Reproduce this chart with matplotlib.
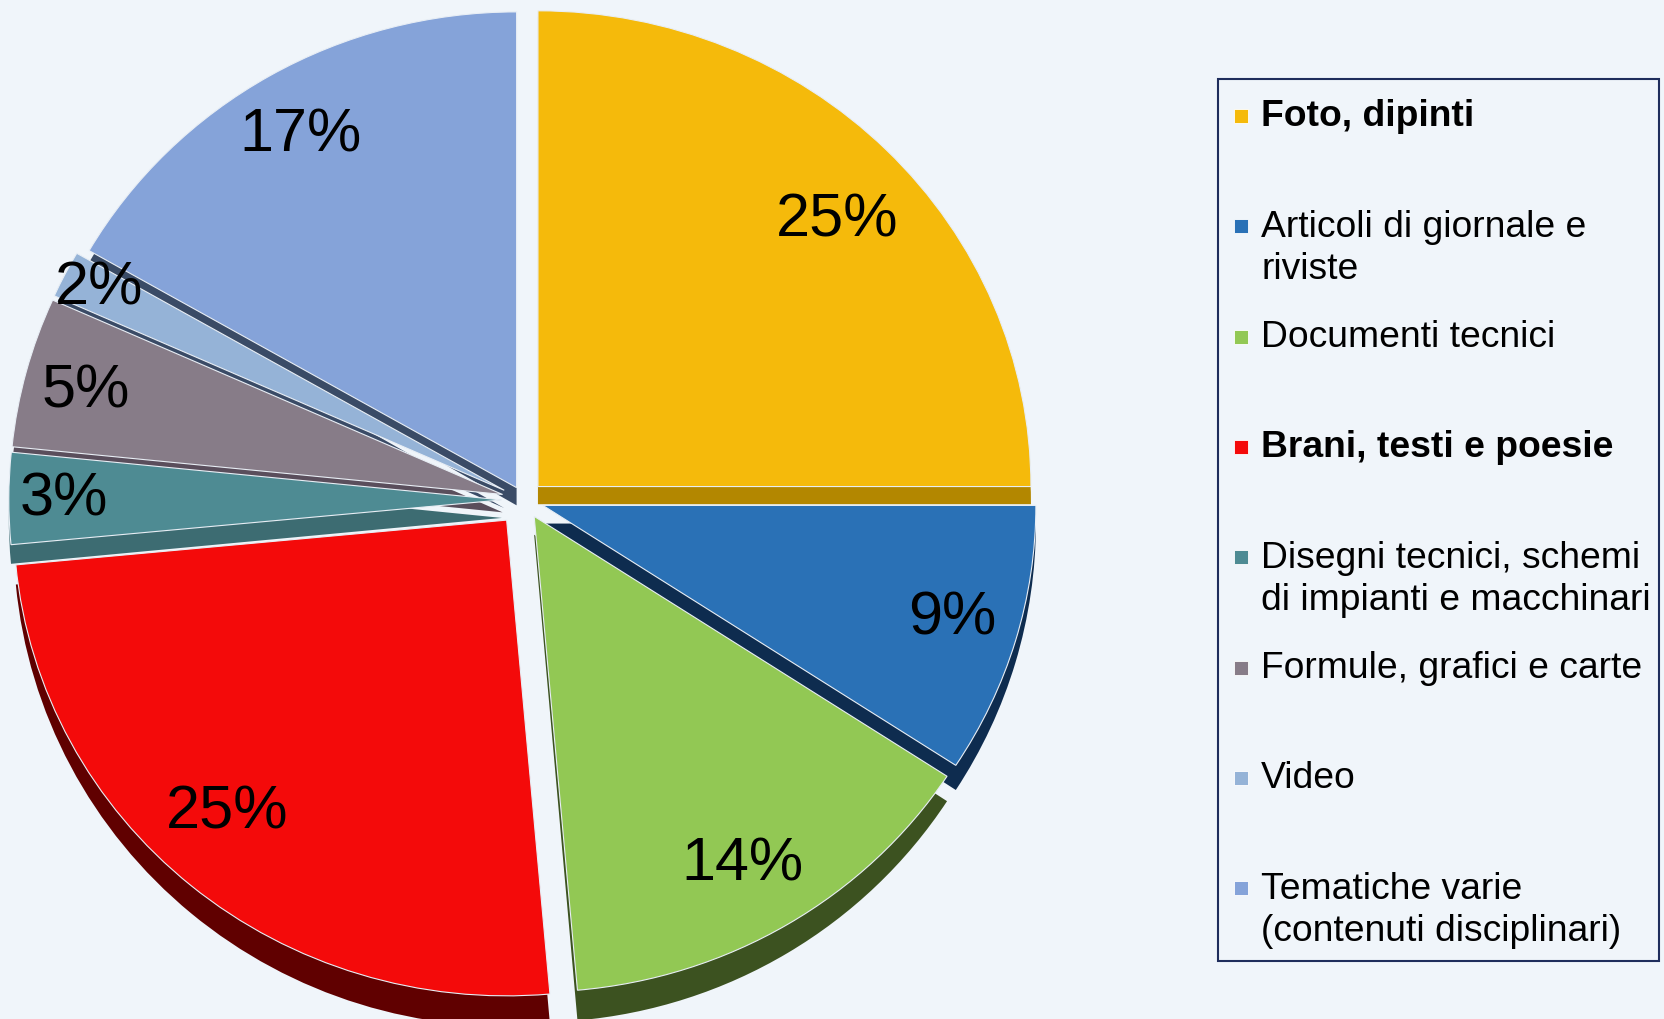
import numpy as np
import matplotlib.pyplot as plt
import matplotlib.patches as mpatches
from matplotlib.transforms import Affine2D

plt.rcParams['font.family'] = ['Liberation Sans', 'DejaVu Sans']

labels = ['Foto, dipinti', 'Articoli di giornale e\nriviste', 'Documenti tecnici',
          'Brani, testi e poesie', 'Disegni tecnici, schemi\ndi impianti e macchinari',
          'Formule, grafici e carte', 'Video', 'Tematiche varie\n(contenuti disciplinari)']
values = [25.0, 9.2, 14.4, 24.9, 3.1, 5.1, 1.6, 16.7]
bold = [True, False, False, True, False, False, False, False]
colors = ['#F5BA0B', '#2A71B6', '#92C854', '#F40A0A', '#4E8B93', '#877C88', '#95B3D7', '#85A3D9']
side_colors = ['#B38700', '#0E2C4F', '#3C5220', '#600000', '#3D6C72', '#5A4E5C', '#3A4B66', '#3A4B66']
explode = [0.04, 0.04, 0.04, 0.055, 0.045, 0.045, 0.045, 0.03]
label_dist = [0.827, 0.863, 0.844, 0.835, 0.889, 0.874, 0.925, 0.862]
label_turn = [-2.3, 0.7, -1.0, -2.9, 0.1, 0.5, -0.3, 0.5]

W, H = 1664, 1020
yscale = 0.965          # slight tilt, pie looks a bit flattened
bg = '#F0F5FA'

fig = plt.figure(figsize=(W / 100, H / 100), dpi=100, facecolor=bg)
ax = fig.add_axes([0, 0, 1, 1])
ax.set_facecolor(bg)

def ypix(y):
    return (H - y) / yscale

cx, cy, r = 524, ypix(501), 493
depth = 18 / yscale
stretch = 1.025
expl = [e * r for e in explode]   # pie() takes explode in data units

# side walls: darker copy, shifted down and a bit taller
sides, _ = ax.pie(values, explode=expl, colors=side_colors, startangle=90, counterclock=False,
                  radius=r, center=(cx, cy), frame=True,
                  wedgeprops=dict(edgecolor='none'))
tr = Affine2D().translate(-cx, -cy).scale(1, stretch).translate(cx, cy - depth) + ax.transData
for s in sides:
    s.set_transform(tr)

wedges, _ = ax.pie(values, explode=expl, colors=colors, startangle=90, counterclock=False,
                   radius=r, center=(cx, cy), frame=True,
                   wedgeprops=dict(edgecolor='#E8EEF5', linewidth=0.8))

total = sum(values)
for w, v, d, t in zip(wedges, values, label_dist, label_turn):
    ang = np.deg2rad((w.theta1 + w.theta2) / 2 + t)
    x = w.center[0] + d * r * np.cos(ang)
    y = w.center[1] + d * r * np.sin(ang)
    ax.text(x, y, '%.0f%%' % (v / total * 100), ha='center', va='center',
            fontsize=44, color='black')

ax.set_aspect('auto')
ax.set_xlim(0, W)
ax.set_ylim(0, H / yscale)
ax.axis('off')

# legend box
box = mpatches.Rectangle((1218 / W, 1 - 962 / H), (1659 - 1218) / W, (962 - 80) / H,
                         transform=fig.transFigure, facecolor=bg, edgecolor='#1F2D5C', linewidth=1.5)
fig.add_artist(box)
for i, (lab, c, b) in enumerate(zip(labels, colors, bold)):
    y0 = 117 + i * 110.3
    sq = mpatches.Rectangle((1234 / W, 1 - (y0 + 7) / H), 14 / W, 14 / H,
                            transform=fig.transFigure, facecolor=c, edgecolor='white', linewidth=0.6)
    fig.add_artist(sq)
    for j, line in enumerate(lab.split('\n')):
        fig.text(1261 / W, 1 - (y0 + j * 42.5) / H, line, ha='left', va='center',
                 fontsize=26.8, fontweight='bold' if b else 'normal', color='black')

fig.savefig('out.png', dpi=100, facecolor=bg)
